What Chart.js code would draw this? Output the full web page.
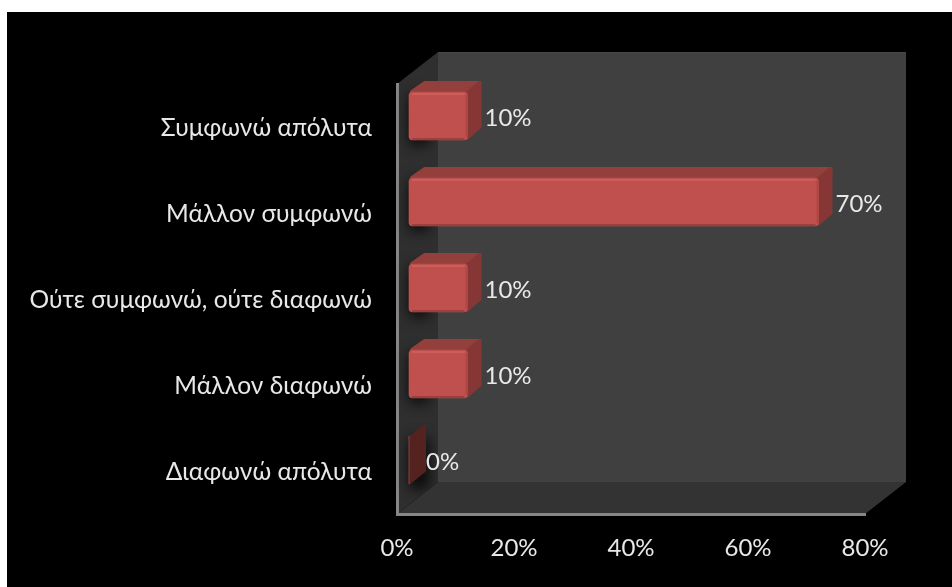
<!DOCTYPE html>
<html><head><meta charset="utf-8">
<style>html,body{margin:0;padding:0;background:#fff}canvas{display:block}</style>
<script src="https://cdn.jsdelivr.net/npm/chart.js@4"></script>
</head><body>
<div style="width:952px;height:587px"><canvas id="c" width="952" height="587"></canvas></div>
<script>
const categories = ['Συμφωνώ απόλυτα','Μάλλον συμφωνώ','Ούτε συμφωνώ, ούτε διαφωνώ','Μάλλον διαφωνώ','Διαφωνώ απόλυτα'];
const shares = [10,70,10,10,0];
const xTicks = [0,20,40,60,80];
const FONT = 'Lato, "Open Sans", sans-serif';
const TEXT = '#e8e8e8';
const WALL = {dx:41, dy:-32};
const BAR = {ox:12, oy:-11, dx:14, dy:-11, zdx:17, zdy:-12};

function poly(ctx, pts, fill){
  ctx.beginPath();
  pts.forEach((p,i)=> i?ctx.lineTo(p[0],p[1]):ctx.moveTo(p[0],p[1]));
  ctx.closePath();
  if(fill){ctx.fillStyle=fill;ctx.fill();}
}
const scene = {
  id:'scene',
  beforeDraw(chart){
    const ctx=chart.ctx, a=chart.chartArea, {dx,dy}=WALL;
    ctx.save();
    ctx.fillStyle='#fff';ctx.fillRect(0,0,chart.width,chart.height);
    ctx.fillStyle='#000';ctx.fillRect(7,12,chart.width-7,chart.height-12);
    poly(ctx,[[a.left+dx,a.top+dy],[a.right+dx,a.top+dy],[a.right+dx,a.bottom+dy],[a.left+dx,a.bottom+dy]],'#404040');
    ctx.fillStyle='#484848';ctx.fillRect(a.left+dx,a.top+dy,a.right-a.left,1);
    poly(ctx,[[a.left,a.bottom],[a.right,a.bottom],[a.right+dx,a.bottom+dy],[a.left+dx,a.bottom+dy]],'#333333');
    poly(ctx,[[a.left,a.top],[a.left+dx,a.top+dy],[a.left+dx,a.bottom+dy],[a.left,a.bottom]],'#2f2f2f');
    ctx.restore();
  },
  beforeDatasetDraw(chart,args){
    const ctx=chart.ctx, a=chart.chartArea, {dx:wx,dy:wy}=WALL;
    const els=chart.getDatasetMeta(args.index).data, vals=chart.data.datasets[args.index].data;
    ctx.save();
    poly(ctx,[[a.left,a.top],[a.left+wx,a.top+wy],[a.left+wx,a.bottom+wy],[a.left,a.bottom]]);
    ctx.clip();
    els.forEach(el=>{
      const p=el.getProps(['y','height','base'],true);
      ctx.save();
      // only the blurred shadow lands on the wall: the rectangle itself stays off canvas
      ctx.shadowColor='rgba(0,0,0,0.8)';ctx.shadowBlur=14;ctx.shadowOffsetX=2000;
      ctx.fillStyle='#000';
      ctx.fillRect(p.base+BAR.ox-2000,p.y-p.height/2+BAR.oy+2,BAR.dx+6,p.height+3);
      ctx.restore();
    });
    ctx.restore();
    ctx.save();
    ctx.translate(BAR.ox,BAR.oy);
    els.forEach((el,i)=>{
      const p=el.getProps(['x','y','height','base'],true);
      const t=p.y-p.height/2, b=p.y+p.height/2;
      if(vals[i]===0){
        ctx.lineJoin='round';ctx.lineWidth=2;ctx.strokeStyle='#54221f';
        poly(ctx,[[p.x+1,t+1],[p.x+BAR.zdx-1,t+BAR.zdy+1],[p.x+BAR.zdx-1,b+BAR.zdy-1],[p.x+1,b-1]],'#54221f');ctx.stroke();
        return;
      }
      const d=BAR.dx,e=BAR.dy;
      ctx.lineJoin='round';ctx.lineWidth=4;
      ctx.strokeStyle='#93403d';
      poly(ctx,[[p.base+3,t],[p.base+d+2,t+e+2],[p.x+d-2,t+e+2],[p.x-2,t]],'#93403d');ctx.stroke();
      ctx.strokeStyle='#863735';
      poly(ctx,[[p.x-1,t+2],[p.x+d-2,t+e+2],[p.x+d-2,b+e-2],[p.x-1,b-2]],'#863735');ctx.stroke();
    });
  },
  afterDatasetDraw(chart,args){
    const ctx=chart.ctx;
    const els=chart.getDatasetMeta(args.index).data, vals=chart.data.datasets[args.index].data;
    els.forEach((el,i)=>{
      if(!vals[i]) return;
      const p=el.getProps(['x','y','height','base'],true);
      const t=p.y-p.height/2,b=p.y+p.height/2;
      ctx.fillStyle='rgba(255,170,165,0.16)';ctx.fillRect(p.base+3,t+1,p.x-p.base-6,2);
      ctx.fillStyle='rgba(90,20,20,0.3)';ctx.fillRect(p.base+3,b-2,p.x-p.base-6,2);
      ctx.fillStyle='rgba(90,20,20,0.15)';ctx.fillRect(p.x-2,t+3,2,p.height-6);
    });
    ctx.restore();
    ctx.save();
    ctx.font='24px '+FONT;ctx.fillStyle=TEXT;ctx.textAlign='left';ctx.textBaseline='middle';
    els.forEach((el,i)=>{
      const p=el.getProps(['x','y'],true);
      ctx.fillText(vals[i]+'%',p.x+29,p.y-9);
    });
    ctx.restore();
  }
};
new Chart(document.getElementById('c'),{
  type:'bar',
  data:{labels:categories,datasets:[{data:shares,backgroundColor:'#c0504d',borderWidth:0,borderRadius:4,borderSkipped:false,barThickness:48,clip:false}]},
  plugins:[scene],
  options:{
    indexAxis:'y',responsive:false,animation:false,
    layout:{padding:{left:0,right:87,top:84,bottom:0}},
    plugins:{legend:{display:false},tooltip:{enabled:false},title:{display:false}},
    scales:{
      x:{min:0,max:80,afterFit(s){s.height=73;},
        afterBuildTicks(s){s.ticks=xTicks.map(v=>({value:v}));},
        grid:{display:false,drawTicks:false},
        border:{display:true,color:'#868686',width:3},
        ticks:{color:TEXT,padding:20,maxRotation:0,font:{family:FONT,size:24},callback:v=>v+'%'}},
      y:{afterFit(s){s.width=397;},
        grid:{display:false,drawTicks:false},
        border:{display:true,color:'#868686',width:3},
        ticks:{color:TEXT,padding:25,labelOffset:1,font:{family:FONT,size:24.5}}}
    }
  }
});
</script>
</body></html>
